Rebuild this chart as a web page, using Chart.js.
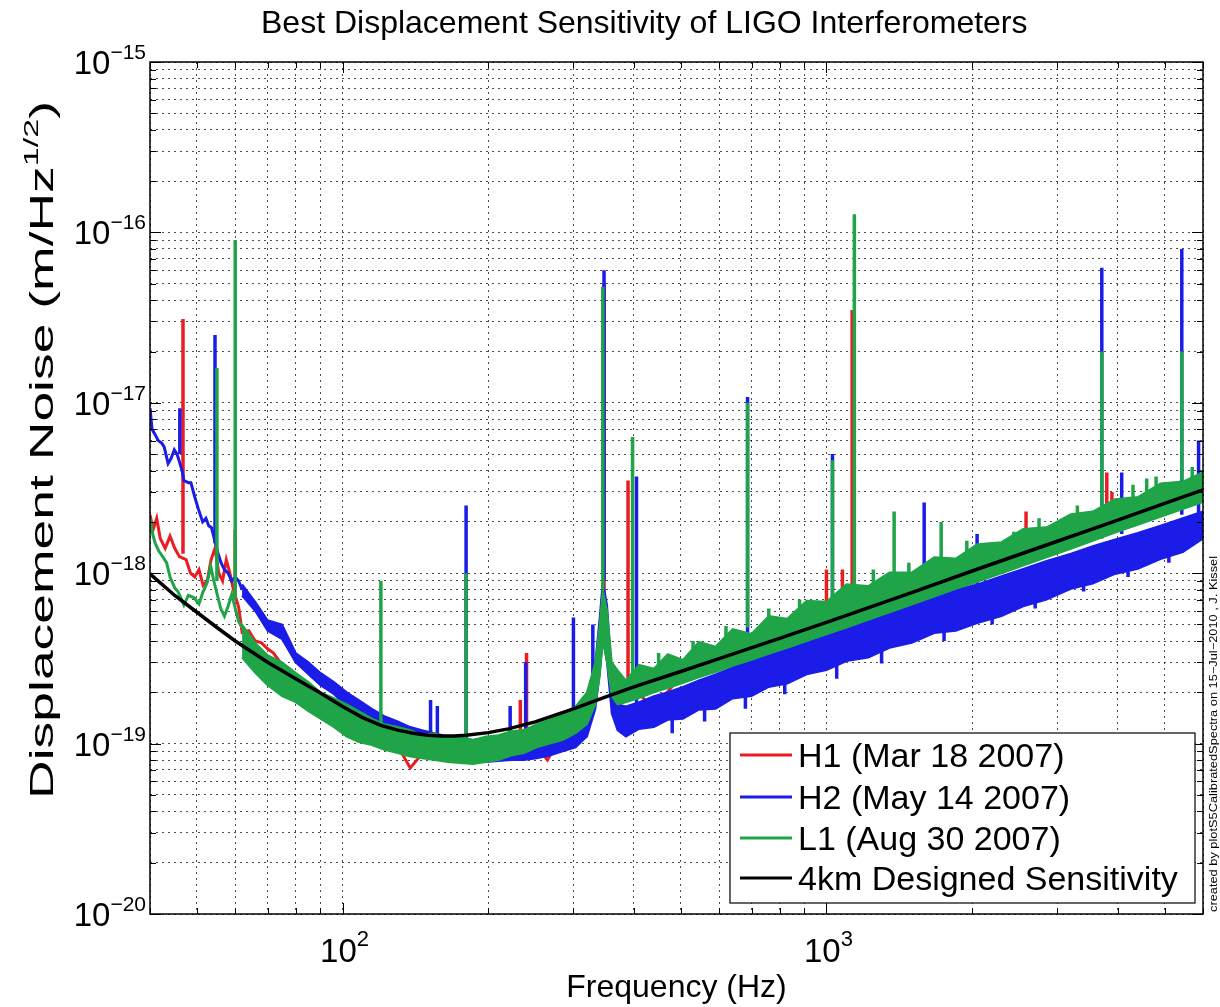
<!DOCTYPE html>
<html>
<head>
<meta charset="utf-8">
<title>Best Displacement Sensitivity of LIGO Interferometers</title>
<script src="https://cdn.jsdelivr.net/npm/chart.js@4.4.1/dist/chart.umd.min.js"></script>
<style>
  html, body { margin: 0; padding: 0; background: #fff; }
  canvas { display: block; }
</style>
</head>
<body>
<canvas id="ligoChart" width="1220" height="1007"></canvas>
<script>
// ---- data (frequency in Hz, noise in m/Hz^1/2) ----

// 4km design curve
var designFreq = [40, 45, 50, 55, 60, 70, 80, 90, 100, 110,
  120, 130, 140, 150, 160, 170, 180, 200, 220, 250,
  300, 350, 400, 500, 600, 800, 1000, 1500, 2000, 3000,
  4000, 5000, 6000];
var designNoise = [9.9e-19, 7.4e-19, 5.9e-19, 4.8e-19, 4.0e-19, 3.0e-19, 2.4e-19, 1.98e-19, 1.65e-19, 1.42e-19,
  1.28e-19, 1.2e-19, 1.15e-19, 1.12e-19, 1.11e-19, 1.11e-19, 1.12e-19, 1.16e-19, 1.22e-19, 1.34e-19,
  1.6e-19, 1.88e-19, 2.15e-19, 2.65e-19, 3.15e-19, 4.15e-19, 5.15e-19, 7.7e-19, 10.3e-19, 15.4e-19,
  20.5e-19, 25.7e-19, 30.8e-19];

// H1 trace
var h1Freq = [40, 40.6, 41.3, 42, 43, 44, 45, 46, 47.5, 48.5,
  49.5, 50.5, 51.5, 52.5, 53.5, 54.5, 55.5, 56.5, 57.5, 58.5,
  59.5, 61, 62, 64, 66, 68, 70, 72, 75, 78,
  82, 86, 90, 95, 100, 104, 110, 118, 125, 132,
  138, 145, 160, 180, 200, 225, 250, 265, 280, 300,
  320, 335, 345, 355, 370, 400, 440, 500, 700, 1000,
  1500, 2000, 3000, 4000, 6000];
var h1Noise = [22e-19, 18e-19, 21e-19, 16e-19, 14e-19, 16.5e-19, 14e-19, 12.5e-19, 12e-19, 10e-19,
  9.5e-19, 10.5e-19, 8.5e-19, 9e-19, 12e-19, 14e-19, 10e-19, 9e-19, 12e-19, 10e-19,
  8e-19, 6.3e-19, 4.5e-19, 4.6e-19, 4.0e-19, 3.9e-19, 3.6e-19, 3.4e-19, 2.9e-19, 2.7e-19,
  2.4e-19, 2.0e-19, 1.85e-19, 1.55e-19, 1.3e-19, 1.15e-19, 1.2e-19, 1.05e-19, 0.95e-19, 0.9e-19,
  0.72e-19, 0.85e-19, 0.9e-19, 0.85e-19, 0.9e-19, 0.95e-19, 1.0e-19, 0.8e-19, 1.05e-19, 1.2e-19,
  1.4e-19, 2.5e-19, 5e-19, 2.8e-19, 1.8e-19, 2.1e-19, 1.6e-19, 2.5e-19, 3.4e-19, 4.8e-19,
  7.3e-19, 10e-19, 15e-19, 20e-19, 29e-19];

// H2 and L1 below 62 Hz
var h2Freq = [40, 40.4, 41, 41.6, 42.3, 42.8, 43.6, 44.2, 44.9, 45.5,
  46.6, 47, 48, 48.6, 49.5, 50.3, 51.4, 52.2, 52.9, 53.6,
  55.3, 56.1, 57, 58, 59, 60, 61, 62];
var h2Noise = [93e-19, 70e-19, 65e-19, 60e-19, 58e-19, 55e-19, 44e-19, 47e-19, 53e-19, 50e-19,
  40e-19, 35e-19, 34e-19, 34e-19, 28e-19, 24e-19, 20e-19, 21e-19, 19e-19, 18.5e-19,
  13e-19, 11.5e-19, 10.5e-19, 10e-19, 9e-19, 9.5e-19, 9e-19, 8e-19];
var l1Freq = [40, 40.5, 41, 41.7, 42.5, 43.3, 44, 45, 45.7, 46.5,
  47, 48, 49.3, 50.5, 51.5, 52.5, 53.4, 54.2, 56, 57,
  58, 59, 61, 62];
var l1Noise = [21e-19, 17e-19, 15e-19, 13.5e-19, 12.5e-19, 11.5e-19, 9.5e-19, 8.2e-19, 7.8e-19, 7.0e-19,
  6.5e-19, 7.4e-19, 7.2e-19, 6.6e-19, 7.8e-19, 8.8e-19, 11e-19, 9e-19, 6.2e-19, 5.6e-19,
  6.4e-19, 7.5e-19, 5.2e-19, 4.8e-19];

// upper / lower edge of the dense H2 and L1 noise floor
var bandFreq = [62, 66, 70, 75, 80, 85, 90, 96, 102, 108,
  115, 122, 130, 138, 146, 155, 165, 175, 186, 198,
  210, 223, 237, 252, 268, 285, 303, 320, 333, 340,
  345, 352, 360, 370, 385, 410, 440, 470, 505, 545,
  590, 640, 700, 760, 830, 910, 1000, 1100, 1220, 1350,
  1500, 1670, 1850, 2050, 2300, 2550, 2850, 3200, 3550, 3950,
  4400, 4900, 5450, 6000];
var l1BandHi = [5.0e-19, 3.9e-19, 3.3e-19, 3.0e-19, 2.6e-19, 2.3e-19, 2.0e-19, 1.85e-19, 1.7e-19, 1.55e-19,
  1.4e-19, 1.3e-19, 1.25e-19, 1.2e-19, 1.12e-19, 1.15e-19, 1.08e-19, 1.1e-19, 1.05e-19, 1.1e-19,
  1.12e-19, 1.18e-19, 1.2e-19, 1.3e-19, 1.38e-19, 1.5e-19, 1.65e-19, 2.0e-19, 3.0e-19, 5.0e-19,
  8.0e-19, 6.0e-19, 3.0e-19, 2.7e-19, 2.35e-19, 2.9e-19, 2.75e-19, 3.35e-19, 3.1e-19, 3.95e-19,
  3.7e-19, 4.7e-19, 4.4e-19, 5.6e-19, 5.4e-19, 6.9e-19, 6.8e-19, 8.6e-19, 8.4e-19, 10.1e-19,
  10.1e-19, 12.4e-19, 12.2e-19, 14.8e-19, 15.2e-19, 18.2e-19, 18.6e-19, 22.2e-19, 23.0e-19, 27.2e-19,
  28.0e-19, 33.6e-19, 34.5e-19, 39.0e-19];
var l1BandLo = [3.2e-19, 2.6e-19, 2.2e-19, 1.9e-19, 1.75e-19, 1.55e-19, 1.4e-19, 1.25e-19, 1.1e-19, 1.02e-19,
  0.98e-19, 0.92e-19, 0.88e-19, 0.84e-19, 0.82e-19, 0.8e-19, 0.78e-19, 0.77e-19, 0.76e-19, 0.78e-19,
  0.8e-19, 0.85e-19, 0.88e-19, 0.95e-19, 1.0e-19, 1.05e-19, 1.15e-19, 1.3e-19, 1.7e-19, 2.5e-19,
  4.0e-19, 3.0e-19, 1.9e-19, 1.7e-19, 1.75e-19, 1.85e-19, 2.0e-19, 2.12e-19, 2.27e-19, 2.45e-19,
  2.63e-19, 2.86e-19, 3.1e-19, 3.36e-19, 3.65e-19, 4.0e-19, 4.38e-19, 4.8e-19, 5.33e-19, 5.9e-19,
  6.55e-19, 7.3e-19, 8.1e-19, 8.9e-19, 10.0e-19, 11.1e-19, 12.4e-19, 13.9e-19, 15.5e-19, 17.3e-19,
  19.2e-19, 21.4e-19, 23.8e-19, 26.2e-19];
var h2BandHi = [8.6e-19, 6.8e-19, 5.3e-19, 5.0e-19, 3.4e-19, 3.0e-19, 2.6e-19, 2.3e-19, 2.0e-19, 1.8e-19,
  1.6e-19, 1.45e-19, 1.35e-19, 1.25e-19, 1.2e-19, 1.15e-19, 1.1e-19, 1.08e-19, 1.05e-19, 1.08e-19,
  1.1e-19, 1.12e-19, 1.15e-19, 1.2e-19, 1.25e-19, 1.32e-19, 1.45e-19, 1.8e-19, 3.0e-19, 5.5e-19,
  9.0e-19, 6.5e-19, 2.6e-19, 1.7e-19, 1.65e-19, 1.75e-19, 1.9e-19, 2.0e-19, 2.15e-19, 2.35e-19,
  2.55e-19, 2.8e-19, 3.1e-19, 3.4e-19, 3.7e-19, 4.1e-19, 4.5e-19, 4.9e-19, 5.4e-19, 6.0e-19,
  6.6e-19, 7.4e-19, 8.0e-19, 8.6e-19, 9.6e-19, 10.6e-19, 11.8e-19, 13.0e-19, 14.4e-19, 15.8e-19,
  17.2e-19, 19.0e-19, 21.0e-19, 23.0e-19];
var h2BandLo = [7.4e-19, 6.0e-19, 4.6e-19, 4.1e-19, 3.0e-19, 2.55e-19, 2.2e-19, 1.95e-19, 1.65e-19, 1.45e-19,
  1.15e-19, 1.0e-19, 0.93e-19, 0.88e-19, 0.85e-19, 0.82e-19, 0.8e-19, 0.79e-19, 0.78e-19, 0.78e-19,
  0.79e-19, 0.8e-19, 0.8e-19, 0.82e-19, 0.85e-19, 0.9e-19, 0.95e-19, 1.1e-19, 1.6e-19, 2.6e-19,
  4.2e-19, 3.0e-19, 1.5e-19, 1.2e-19, 1.1e-19, 1.22e-19, 1.25e-19, 1.38e-19, 1.4e-19, 1.58e-19,
  1.6e-19, 1.84e-19, 1.9e-19, 2.15e-19, 2.25e-19, 2.55e-19, 2.7e-19, 3.05e-19, 3.2e-19, 3.65e-19,
  3.9e-19, 4.45e-19, 4.6e-19, 5.1e-19, 5.6e-19, 6.4e-19, 7.0e-19, 8.1e-19, 8.7e-19, 9.9e-19,
  10.6e-19, 12.1e-19, 13.3e-19, 16.0e-19];

// narrow lines: frequency, floor level and peak (or dip)
var h1LineFreq = [46.8, 60, 233, 240, 281, 347, 389, 1000, 1079, 1130, 2585, 3796, 3890];
var h1LineBase = [13e-19, 7e-19, 0.9e-19, 1.0e-19, 1.1e-19, 5e-19, 2.2e-19, 4.8e-19, 5.2e-19, 7e-19, 12e-19, 18e-19, 18e-19];
var h1LineTop = [310e-19, 18e-19, 1.8e-19, 3.4e-19, 1.5e-19, 500e-19, 35e-19, 10.5e-19, 10.5e-19, 350e-19, 23e-19, 39e-19, 30e-19];
var h2LineFreq = [46.1, 54.5, 152, 157, 180, 222, 239, 300, 329, 347, 405, 687, 1029, 1592, 2048, 3707, 4075, 5424, 5875,
  480, 560, 680, 820, 1050, 1300, 1750, 2200, 2700, 3400, 4200, 5100];
var h2LineBase = [50e-19, 15e-19, 1.0e-19, 1.0e-19, 1.0e-19, 1.0e-19, 1.0e-19, 1.2e-19, 1.5e-19, 9e-19, 1.6e-19, 3.0e-19, 4.5e-19, 6.5e-19, 8.5e-19, 16e-19, 17e-19, 22e-19, 22e-19,
  1.7e-19, 2.0e-19, 2.4e-19, 2.9e-19, 3.6e-19, 4.5e-19, 6.0e-19, 7.5e-19, 9.3e-19, 11.6e-19, 14.5e-19, 17.5e-19];
var h2LineTop = [93e-19, 250e-19, 1.8e-19, 1.66e-19, 25e-19, 1.66e-19, 3.0e-19, 5.5e-19, 5.0e-19, 600e-19, 37e-19, 108e-19, 50e-19, 26e-19, 17e-19, 620e-19, 39e-19, 800e-19, 60e-19,
  1.15e-19, 1.35e-19, 1.6e-19, 1.95e-19, 2.4e-19, 2.95e-19, 4.0e-19, 5.0e-19, 6.2e-19, 7.8e-19, 9.5e-19, 11.5e-19];
var l1LineFreq = [55, 60, 120, 180, 345, 397.5, 687, 1029, 1142, 1380, 1726, 3707, 4590, 5424,
  450, 530, 620, 760, 880, 1250, 1480, 1950, 2440, 2750, 3300, 4300, 4800, 5700];
var l1LineBase = [9e-19, 7e-19, 1.25e-19, 1.1e-19, 8e-19, 2.6e-19, 4.8e-19, 7e-19, 8e-19, 9.5e-19, 12e-19, 24e-19, 30e-19, 35e-19,
  2.4e-19, 2.8e-19, 3.2e-19, 3.9e-19, 4.5e-19, 6.4e-19, 7.6e-19, 10e-19, 12.5e-19, 14e-19, 17e-19, 22e-19, 25e-19, 29e-19];
var l1LineTop = [160e-19, 900e-19, 9e-19, 10e-19, 480e-19, 63e-19, 100e-19, 46e-19, 1280e-19, 23e-19, 20e-19, 200e-19, 36e-19, 200e-19,
  3.4e-19, 4.0e-19, 4.9e-19, 6.2e-19, 7.0e-19, 10.5e-19, 11.5e-19, 15.5e-19, 17.5e-19, 21e-19, 25e-19, 33e-19, 37e-19, 42e-19];

// axis grid (MATLAB style log grid) and tick labels
var xGrid = [40, 50, 60, 70, 80, 90, 100, 200, 300, 400, 500, 600, 700, 800, 900, 1000, 2000, 3000, 4000, 5000, 6000];
var yDecades = [-20, -19, -18, -17, -16, -15];
var xLabelExp = [2, 3];

var legendNames = ["H1 (Mar 18 2007)", "H2 (May 14 2007)", "L1 (Aug 30 2007)", "4km Designed Sensitivity"];

var RED = "#ea1d22", BLUE = "#1c1ce8", GREEN = "#1fa548", BLACK = "#000000";
var FONT = '"Liberation Sans", Arial, Helvetica, sans-serif';

function toPoints(xs, ys) {
  return xs.map(function (x, i) { return { x: x, y: ys[i] }; });
}

// each line is a vertical stroke from the floor to its peak, gaps between them
function linePoints(xs, bases, tops) {
  var pts = [];
  for (var i = 0; i < xs.length; i++) {
    pts.push({ x: xs[i], y: bases[i] });
    pts.push({ x: xs[i], y: tops[i] });
    pts.push({ x: xs[i], y: null });
  }
  return pts;
}

var yGrid = [];
yDecades.slice(0, -1).forEach(function (d) {
  for (var m = 1; m < 10; m++) yGrid.push(m * Math.pow(10, d));
});
yGrid.push(1e-15);

// drawing order: first entry is painted first (bottom)
var datasets = [
  { label: "H1", data: toPoints(h1Freq, h1Noise), borderColor: RED, borderWidth: 3 },
  { label: "H1 lines", data: linePoints(h1LineFreq, h1LineBase, h1LineTop), borderColor: RED, borderWidth: 3.5 },
  { label: "H2 floor hi", data: toPoints(bandFreq, h2BandHi), borderColor: BLUE, backgroundColor: BLUE, borderWidth: 2, fill: "+1" },
  { label: "H2 floor lo", data: toPoints(bandFreq, h2BandLo), borderColor: BLUE, borderWidth: 2 },
  { label: "H2", data: toPoints(h2Freq, h2Noise), borderColor: BLUE, borderWidth: 3 },
  { label: "H2 lines", data: linePoints(h2LineFreq, h2LineBase, h2LineTop), borderColor: BLUE, borderWidth: 3.5 },
  { label: "L1 floor hi", data: toPoints(bandFreq, l1BandHi), borderColor: GREEN, backgroundColor: GREEN, borderWidth: 2, fill: "+1" },
  { label: "L1 floor lo", data: toPoints(bandFreq, l1BandLo), borderColor: GREEN, borderWidth: 2 },
  { label: "L1", data: toPoints(l1Freq, l1Noise), borderColor: GREEN, borderWidth: 3 },
  { label: "L1 lines", data: linePoints(l1LineFreq, l1LineBase, l1LineTop), borderColor: GREEN, borderWidth: 3.5 },
  { label: "Design", data: toPoints(designFreq, designNoise), borderColor: BLACK, borderWidth: 3.5 }
];
datasets.forEach(function (ds, i) {
  ds.order = datasets.length - i;
  ds.pointRadius = 0;
  ds.tension = 0;
  ds.spanGaps = false;
  if (!ds.fill) ds.fill = false;
});

function drawParts(ctx, parts, x, y, align) {
  var total = 0;
  parts.forEach(function (p) {
    ctx.font = p.size + "px " + FONT;
    p.w = ctx.measureText(p.text).width;
    total += p.w;
  });
  var cx = x;
  if (align === "center") cx = x - total / 2;
  if (align === "right") cx = x - total;
  ctx.textAlign = "left";
  ctx.textBaseline = "alphabetic";
  parts.forEach(function (p) {
    ctx.font = p.size + "px " + FONT;
    ctx.fillText(p.text, cx, y - (p.rise || 0));
    cx += p.w;
  });
}

function isDecade(v) {
  var l = Math.log10(v);
  return Math.abs(l - Math.round(l)) < 1e-6;
}

var matlabFrame = {
  id: "matlabFrame",
  afterDraw: function (chart) {
    var ctx = chart.ctx;
    var a = chart.chartArea;
    var xs = chart.scales.x, ys = chart.scales.y;
    ctx.save();

    // inward tick marks on all four sides
    ctx.strokeStyle = "#000";
    ctx.lineWidth = 1;
    ctx.beginPath();
    xGrid.forEach(function (v) {
      var px = Math.round(xs.getPixelForValue(v)) + 0.5;
      var len = isDecade(v) ? 11 : 6;
      ctx.moveTo(px, a.bottom); ctx.lineTo(px, a.bottom - len);
      ctx.moveTo(px, a.top); ctx.lineTo(px, a.top + len);
    });
    yGrid.forEach(function (v) {
      var py = Math.round(ys.getPixelForValue(v)) + 0.5;
      var len = isDecade(v) ? 11 : 6;
      ctx.moveTo(a.left, py); ctx.lineTo(a.left + len, py);
      ctx.moveTo(a.right, py); ctx.lineTo(a.right - len, py);
    });
    ctx.stroke();

    // box
    ctx.lineWidth = 1.5;
    ctx.strokeRect(a.left, a.top, a.right - a.left, a.bottom - a.top);

    ctx.fillStyle = "#000";
    // y tick labels 10^-n
    yDecades.forEach(function (d) {
      var py = ys.getPixelForValue(Math.pow(10, d));
      drawParts(ctx, [
        { text: "10", size: 33 },
        { text: "\u2212" + Math.abs(d), size: 21, rise: 15 }
      ], 146, py + 12, "right");
    });
    // x tick labels 10^n
    xLabelExp.forEach(function (e) {
      var px = xs.getPixelForValue(Math.pow(10, e));
      drawParts(ctx, [
        { text: "10", size: 33 },
        { text: String(e), size: 22, rise: 16 }
      ], px + 2, 962, "center");
    });

    // title and axis titles
    drawParts(ctx, [{ text: "Best Displacement Sensitivity of LIGO Interferometers", size: 32 }], 261, 33, "left");
    drawParts(ctx, [{ text: "Frequency (Hz)", size: 32 }], (a.left + a.right) / 2, 997, "center");
    ctx.save();
    ctx.translate(53, 450);
    ctx.rotate(-Math.PI / 2);
    ctx.scale(1.62, 1);
    drawParts(ctx, [
      { text: "Displacement Noise (m/Hz", size: 33 },
      { text: "1/2", size: 21, rise: 15 },
      { text: ")", size: 33 }
    ], 0, 0, "center");
    ctx.restore();

    // small credit along the right edge
    ctx.save();
    ctx.translate(1217, 912);
    ctx.rotate(-Math.PI / 2);
    ctx.scale(1.22, 1);
    drawParts(ctx, [{ text: "created by plotS5CalibratedSpectra on 15\u2212Jul\u22122010 , J. Kissel", size: 10.5 }], 0, 0, "left");
    ctx.restore();

    // legend
    var lx = 730, ly = 733, lw = 465, lh = 170;
    ctx.fillStyle = "#fff";
    ctx.fillRect(lx, ly, lw, lh);
    ctx.strokeStyle = "#000";
    ctx.lineWidth = 1.2;
    ctx.strokeRect(lx, ly, lw, lh);
    var rows = [755, 797, 838, 878];
    var colors = [RED, BLUE, GREEN, BLACK];
    legendNames.forEach(function (name, i) {
      ctx.strokeStyle = colors[i];
      ctx.lineWidth = 3;
      ctx.beginPath();
      ctx.moveTo(740, rows[i]);
      ctx.lineTo(792, rows[i]);
      ctx.stroke();
      ctx.fillStyle = "#000";
      drawParts(ctx, [{ text: name, size: 34 }], 798, rows[i] + 12, "left");
    });
    ctx.restore();
  }
};

var gridStyle = { color: "rgba(0,0,0,0.7)", lineWidth: 1, drawTicks: false };

new Chart(document.getElementById("ligoChart"), {
  type: "line",
  data: { datasets: datasets },
  options: {
    responsive: false,
    animation: false,
    devicePixelRatio: 1,
    layout: { padding: { left: 150, top: 62, right: 17, bottom: 93 } },
    plugins: {
      legend: { display: false },
      tooltip: { enabled: false },
      title: { display: false }
    },
    scales: {
      x: {
        type: "logarithmic",
        min: 40,
        max: 6000,
        afterBuildTicks: function (scale) {
          scale.ticks = xGrid.map(function (v) { return { value: v }; });
        },
        ticks: { display: false },
        grid: gridStyle,
        border: { display: false, dash: [2, 4] }
      },
      y: {
        type: "logarithmic",
        min: 1e-20,
        max: 1e-15,
        afterBuildTicks: function (scale) {
          scale.ticks = yGrid.map(function (v) { return { value: v }; });
        },
        ticks: { display: false },
        grid: gridStyle,
        border: { display: false, dash: [2, 4] }
      }
    }
  },
  plugins: [matlabFrame]
});
</script>
</body>
</html>
